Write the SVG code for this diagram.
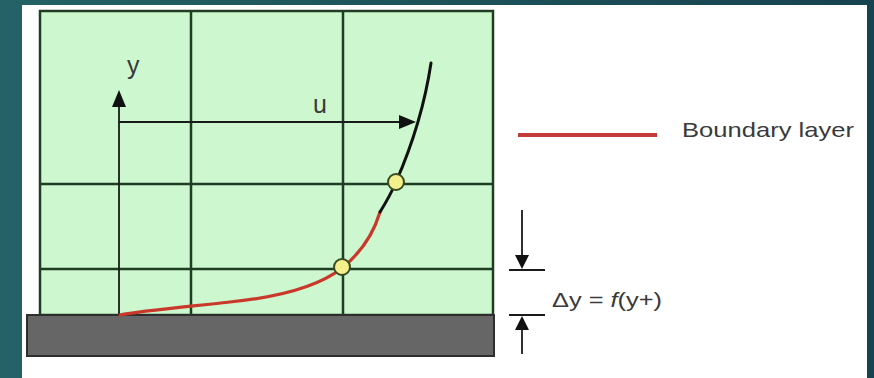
<svg xmlns="http://www.w3.org/2000/svg" width="874" height="378" viewBox="0 0 874 378">
  <defs>
    <linearGradient id="bg" x1="0" y1="0" x2="1" y2="0">
      <stop offset="0" stop-color="#236266"/>
      <stop offset="1" stop-color="#17424f"/>
    </linearGradient>
    <style>
      .grid { stroke: #1e3d22; stroke-width: 2.5; fill: none; }
      .ax { stroke: #1a1a1a; stroke-width: 1.8; fill: none; }
      .head { fill: #111; }
      .lbl { font-family: "Liberation Sans", Arial, sans-serif; fill: #3a3a3a; }
      .pt { fill: #f4f08c; stroke: #3a4a22; stroke-width: 2; }
    </style>
  </defs>

  <rect x="0" y="0" width="874" height="378" fill="url(#bg)"/>
  <rect x="22" y="5" width="845" height="373" fill="#ffffff"/>

  <g id="domain">
    <rect x="40" y="11" width="453" height="304" fill="#cdf8cf"/>
    <line class="grid" x1="191" y1="11" x2="191" y2="315"/>
    <line class="grid" x1="343" y1="11" x2="343" y2="315"/>
    <line class="grid" x1="40" y1="184" x2="493" y2="184"/>
    <line class="grid" x1="40" y1="269" x2="493" y2="269"/>
    <rect class="grid" x="40" y="11" width="453" height="304"/>
  </g>

  <g id="wall">
    <rect x="27" y="315" width="467" height="41" fill="#666666" stroke="#2e2e2e" stroke-width="2"/>
  </g>

  <g id="connectors">
    <line class="ax" x1="119" y1="104" x2="119" y2="315"/>
    <polygon class="head" points="119,90 112,107 126,107"/>
    <line class="ax" x1="119" y1="122" x2="402" y2="122"/>
    <polygon class="head" points="416,122 399,115 399,129"/>
    <path d="M380,212 C374,232 362,252 342,268 C318,287 280,297 230,302 C185,307 140,311 120,315" fill="none" stroke="#c9382b" stroke-width="3.2" stroke-linecap="round"/>
    <path d="M431,63 C424,110 410,150 396,182 C390,196 385,204 380,212" fill="none" stroke="#111" stroke-width="3" stroke-linecap="round"/>
    <line x1="518" y1="135" x2="657" y2="135" stroke="#c43b3b" stroke-width="4"/>
    <line class="ax" x1="522" y1="210" x2="522" y2="258"/>
    <polygon class="head" points="522,269 515,255 529,255"/>
    <line class="ax" x1="509" y1="270" x2="545" y2="270"/>
    <line class="ax" x1="509" y1="315" x2="545" y2="315"/>
    <polygon class="head" points="522,316 515,330 529,330"/>
    <line class="ax" x1="522" y1="326" x2="522" y2="354"/>
  </g>

  <g id="points">
    <circle id="p1" class="pt" cx="396" cy="182" r="8"/>
    <circle id="p2" class="pt" cx="342" cy="267" r="8"/>
  </g>

  <g id="labels">
    <text class="lbl" x="127" y="74" font-size="25">y</text>
    <text class="lbl" x="313" y="113" font-size="25">u</text>
    <text class="lbl" x="682" y="137" font-size="21" textLength="172" lengthAdjust="spacingAndGlyphs">Boundary layer</text>
    <text class="lbl" x="552" y="307" font-size="20" textLength="110" lengthAdjust="spacingAndGlyphs">Δy = <tspan font-style="italic">f</tspan>(y+)</text>
  </g>
</svg>
